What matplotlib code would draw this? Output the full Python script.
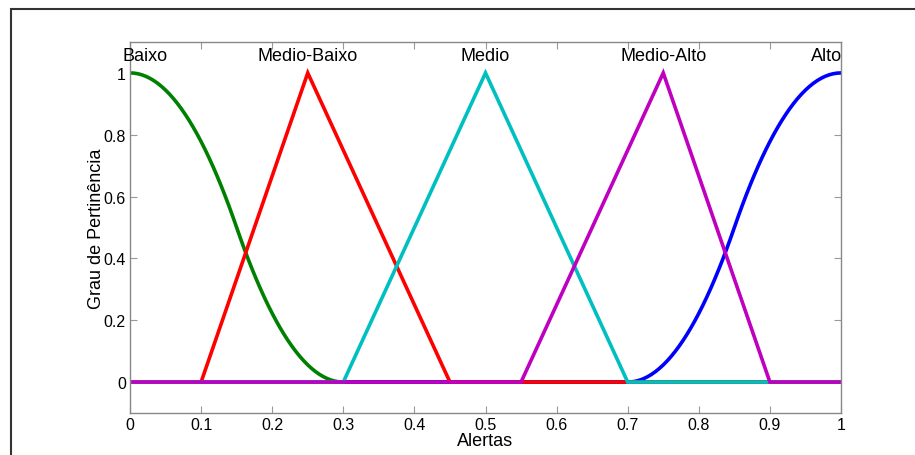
import numpy as np
import matplotlib
matplotlib.use("Agg")
import matplotlib.pyplot as plt
from matplotlib.patches import Rectangle

# membership functions of the "Alertas" variable
mf_names = ["Baixo", "Medio-Baixo", "Medio", "Medio-Alto", "Alto"]
mf_types = ["zmf", "trimf", "trimf", "trimf", "smf"]
mf_params = [[0.0, 0.3], [0.1, 0.25, 0.45], [0.3, 0.5, 0.7], [0.55, 0.75, 0.9], [0.7, 1.0]]
mf_colors = ["#008000", "#ff0000", "#00bfbf", "#bf00bf", "#0000ff"]
draw_order = [0, 4, 1, 2, 3]
label_x = [0.021, 0.25, 0.5, 0.75, 0.979]
label_y = 1.055

xticks = [0, 0.1, 0.2, 0.3, 0.4, 0.5, 0.6, 0.7, 0.8, 0.9, 1]
xticklabels = ["0", "0.1", "0.2", "0.3", "0.4", "0.5", "0.6", "0.7", "0.8", "0.9", "1"]
yticks = [0, 0.2, 0.4, 0.6, 0.8, 1]
yticklabels = ["0", "0.2", "0.4", "0.6", "0.8", "1"]


def trimf(x, p):
    a, b, c = p
    return np.clip(np.minimum((x - a) / (b - a), (c - x) / (c - b)), 0, 1)


def smf(x, p):
    a, b = p
    m = (a + b) / 2
    y = np.zeros_like(x)
    y[x >= b] = 1
    k = (x > a) & (x <= m)
    y[k] = 2 * ((x[k] - a) / (b - a)) ** 2
    k = (x > m) & (x < b)
    y[k] = 1 - 2 * ((x[k] - b) / (b - a)) ** 2
    return y


def zmf(x, p):
    return 1 - smf(x, p)


funcs = {"trimf": trimf, "smf": smf, "zmf": zmf}

plt.rcParams["font.family"] = ["Liberation Sans", "DejaVu Sans"]

fig = plt.figure(figsize=(9.15, 4.56), dpi=100)
fig.patches.append(Rectangle((11 / 915, -0.1), 2.0, 0.978 + 0.1, transform=fig.transFigure,
                             fill=False, edgecolor="#333333", linewidth=1.5))
ax = fig.add_axes([130 / 915, 1 - 414 / 456, 711 / 915, 371 / 456])

x = np.linspace(0, 1, 181)
for i in draw_order:
    y = funcs[mf_types[i]](x, mf_params[i])
    ax.plot(x, y, color=mf_colors[i], linewidth=2.6, solid_joinstyle="miter")

for i in range(len(mf_names)):
    ax.text(label_x[i], label_y, mf_names[i], ha="center", va="center", fontsize=13)

ax.set_xlim(0, 1)
ax.set_ylim(-0.1, 1.1)
ax.set_xticks(xticks)
ax.set_xticklabels(xticklabels)
ax.set_yticks(yticks)
ax.set_yticklabels(yticklabels)
ax.tick_params(direction="in", length=5, color="#999999", labelsize=11.5,
               top=True, right=True, pad=3)
for s in ax.spines.values():
    s.set_color("#888888")
    s.set_linewidth(1)

ax.set_xlabel("Alertas", fontsize=13, labelpad=0)
ax.set_ylabel("Grau de Pertinência", fontsize=13, labelpad=-1)

fig.savefig("out.png", dpi=100)
